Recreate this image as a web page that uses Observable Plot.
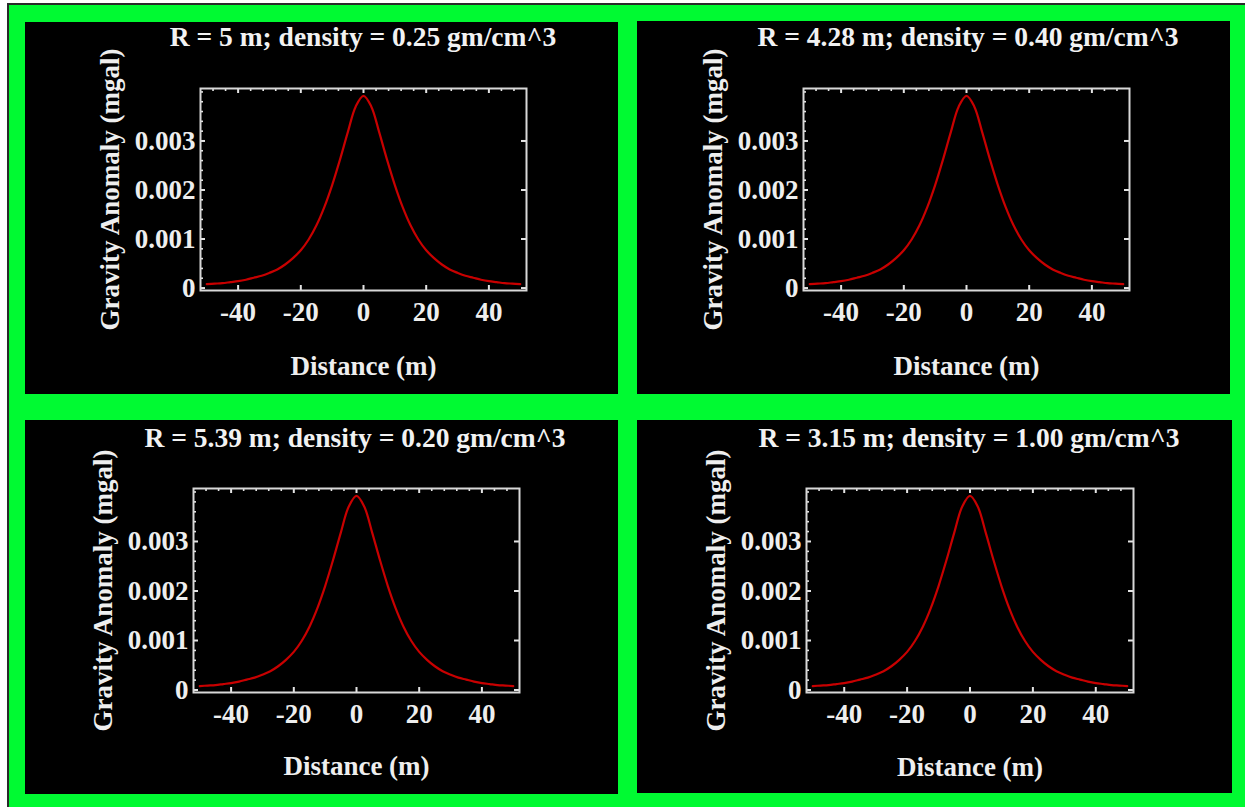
<!DOCTYPE html>
<html><head><meta charset="utf-8">
<script src="https://cdn.jsdelivr.net/npm/d3@7"></script>
<script src="https://cdn.jsdelivr.net/npm/@observablehq/plot@0.6"></script>
<style>
html,body{margin:0;padding:0;background:#fff;}
#root{position:relative;width:1245px;height:807px;overflow:hidden;background:#fff;}
#outer{position:absolute;left:7px;top:3px;right:0;bottom:0;background:#00fa32;border-left:2px solid #2a2a2a;border-top:2px solid #2a2a2a;}
.panel{position:absolute;background:#000;overflow:visible;}
.title{position:absolute;width:640px;text-align:center;font-family:"Liberation Serif",serif;font-weight:bold;font-size:27.5px;line-height:27px;color:#f2f2f2;white-space:nowrap;}
</style></head><body><div id="root"><div id="outer"></div></div>
<script>
// ---- data ----
const distance = [-50,-47.5,-45,-42.5,-40,-37.5,-35,-32.5,-30,-27.5,-25,-22.5,-20,-17.5,-15,-12.5,-10,-7.5,-5,-2.5,0,
                  2.5,5,7.5,10,12.5,15,17.5,20,22.5,25,27.5,30,32.5,35,37.5,40,42.5,45,47.5,50];
const anomaly = [0.00008,0.00009,0.00010,0.00012,0.00014,0.00017,0.00021,0.00025,0.00031,0.00038,0.00048,0.00061,0.00077,0.00099,0.00128,0.00165,0.00210,0.00262,0.00318,0.00370,0.00392,
                 0.00370,0.00318,0.00262,0.00210,0.00165,0.00128,0.00099,0.00077,0.00061,0.00048,0.00038,0.00031,0.00025,0.00021,0.00017,0.00014,0.00012,0.00010,0.00009,0.00008];
const titles = [
  "R = 5 m; density = 0.25 gm/cm^3",
  "R = 4.28 m; density = 0.40 gm/cm^3",
  "R = 5.39 m; density = 0.20 gm/cm^3",
  "R = 3.15 m; density = 1.00 gm/cm^3"
];
const xTickValues = [-40, -20, 0, 20, 40];
const yTickValues = [0, 0.001, 0.002, 0.003];
const xMinorTicks = [-48,-44,-36,-32,-28,-24,-16,-12,-8,-4,4,8,12,16,24,28,32,36,44,48];
const yMinorTicks = [0.0002,0.0004,0.0006,0.0008,0.0012,0.0014,0.0016,0.0018,0.0022,0.0024,0.0026,0.0028,0.0032,0.0034,0.0036,0.0038,0.0040];
const xLabel = "Distance (m)";
const yLabel = "Gravity Anomaly (mgal)";
const xDomain = [-52, 52];
const yDomain = [-0.00005, 0.00407];

// ---- layout (page pixels) ----
const layout = [
  {panel:{x:25,y:22,w:593,h:372},  frame:{l:200,r:526,t:88,b:290},  title:{cx:363,base:46},  labelDy:84},
  {panel:{x:637,y:21,w:593,h:373}, frame:{l:803,r:1129,t:88,b:290}, title:{cx:968,base:46},  labelDy:84},
  {panel:{x:25,y:420,w:593,h:374}, frame:{l:193,r:519,t:488,b:692}, title:{cx:355,base:447}, labelDy:82},
  {panel:{x:637,y:420,w:595,h:373},frame:{l:806,r:1133,t:488,b:692},title:{cx:969,base:447}, labelDy:83}
];

const root = document.getElementById("root");
const points = distance.map((d, i) => ({distance: d, anomaly: anomaly[i]}));
const tickColor = "#e4e4e4";

layout.forEach((L, k) => {
  const P = L.panel, F = L.frame;
  const fw = F.r - F.l, fh = F.b - F.t;
  const xPer = (xDomain[1] - xDomain[0]) / fw;   // data units per px
  const yPer = (yDomain[1] - yDomain[0]) / fh;
  const panel = document.createElement("div");
  panel.className = "panel";
  Object.assign(panel.style, {left: P.x + "px", top: P.y + "px", width: P.w + "px", height: P.h + "px"});
  root.appendChild(panel);

  const chart = Plot.plot({
    width: P.w, height: P.h,
    marginLeft: F.l - P.x, marginRight: P.x + P.w - F.r,
    marginTop: F.t - P.y, marginBottom: P.y + P.h - F.b,
    style: {background: "black", color: "#eeeeee", fontFamily: "'Liberation Serif', serif", fontWeight: "bold", fontSize: "27px", overflow: "visible"},
    x: {domain: xDomain},
    y: {domain: yDomain},
    marks: [
      Plot.line(points, {x: "distance", y: "anomaly", stroke: "#c80000", strokeWidth: 2.2, curve: "catmull-rom"}),
      // inward major ticks
      Plot.ruleX(xTickValues, {x: d => d, y1: () => yDomain[0], y2: () => yDomain[0] + 5 * yPer, stroke: tickColor, strokeWidth: 2}),
      Plot.ruleX(xTickValues, {x: d => d, y1: () => yDomain[1], y2: () => yDomain[1] - 5 * yPer, stroke: tickColor, strokeWidth: 2}),
      Plot.ruleY(yTickValues, {y: d => d, x1: () => xDomain[0], x2: () => xDomain[0] + 5 * xPer, stroke: tickColor, strokeWidth: 2}),
      Plot.ruleY(yTickValues, {y: d => d, x1: () => xDomain[1], x2: () => xDomain[1] - 5 * xPer, stroke: tickColor, strokeWidth: 2}),
      // inward minor ticks (top and left)
      Plot.ruleX(xMinorTicks, {x: d => d, y1: () => yDomain[1], y2: () => yDomain[1] - 3 * yPer, stroke: tickColor, strokeWidth: 1.6}),
      Plot.ruleY(yMinorTicks, {y: d => d, x1: () => xDomain[0], x2: () => xDomain[0] + 3 * xPer, stroke: tickColor, strokeWidth: 1.6}),
      Plot.frame({stroke: "#d8d8d8", strokeWidth: 2}),
      Plot.axisX({ticks: xTickValues, tickSize: 0, tickPadding: 11, label: null, tickFormat: d => String(d)}),
      Plot.axisY({ticks: yTickValues, tickSize: 0, tickPadding: 5, label: null, tickFormat: d => d === 0 ? "0" : d.toFixed(3)}),
      Plot.text([yLabel], {text: d => d, frameAnchor: "left", textAnchor: "middle", dx: -90, rotate: -90, lineAnchor: "middle", fontSize: 27, fill: "#eeeeee"}),
      Plot.text([xLabel], {text: d => d, frameAnchor: "bottom", textAnchor: "middle", dy: L.labelDy, lineAnchor: "bottom", fontSize: 27, fill: "#eeeeee"})
    ]
  });
  chart.style.position = "absolute";
  chart.style.left = "0px";
  chart.style.top = "0px";
  chart.style.maxWidth = "none";
  panel.appendChild(chart);

  const t = document.createElement("div");
  t.className = "title";
  t.textContent = titles[k];
  Object.assign(t.style, {left: (L.title.cx - 320) + "px", top: (L.title.base - 22.6) + "px"});
  root.appendChild(t);
});
</script>
</body></html>
